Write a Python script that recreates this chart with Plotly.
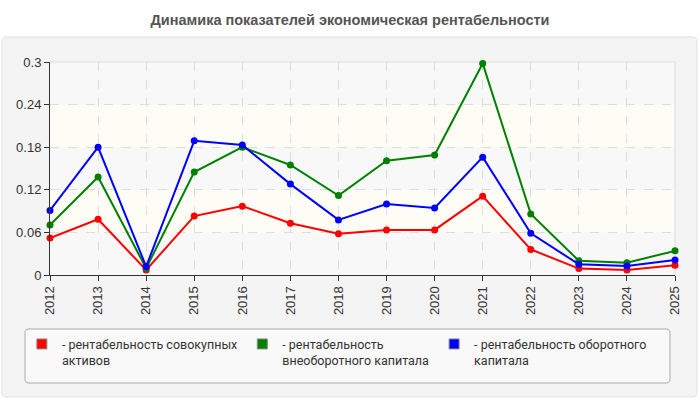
import plotly.graph_objects as go

# données
years = list(range(2012, 2026))
ren_sov = [0.052, 0.0785, 0.007, 0.083, 0.097, 0.073, 0.058, 0.0635, 0.0635, 0.111, 0.036, 0.009, 0.007, 0.0136]
ren_vneob = [0.0705, 0.138, 0.0094, 0.145, 0.180, 0.155, 0.112, 0.161, 0.169, 0.298, 0.086, 0.020, 0.0174, 0.034]
ren_ob = [0.091, 0.180, 0.0118, 0.189, 0.183, 0.128, 0.0776, 0.100, 0.0945, 0.166, 0.0588, 0.015, 0.0127, 0.021]
names = [
	"- рентабельность совокупных<br>активов",
	"- рентабельность<br>внеоборотного капитала",
	"- рентабельность оборотного<br>капитала",
]
colors = ["#ff0000", "#008000", "#0000ff"]
title = "Динамика показателей экономическая рентабельности"
y_ticks = [0, 0.06, 0.12, 0.18, 0.24, 0.3]


def rounded_rect(x0, y0, x1, y1, rx, ry):
	return (f"M {x0 + rx} {y0} L {x1 - rx} {y0} Q {x1} {y0} {x1} {y0 + ry} "
			f"L {x1} {y1 - ry} Q {x1} {y1} {x1 - rx} {y1} L {x0 + rx} {y1} "
			f"Q {x0} {y1} {x0} {y1 - ry} L {x0} {y0 + ry} Q {x0} {y0} {x0 + rx} {y0} Z")


fig = go.Figure()

for vals, name, c in zip([ren_sov, ren_vneob, ren_ob], names, colors):
	fig.add_trace(go.Scatter(x=years, y=vals, mode="lines+markers", showlegend=False,
							 line=dict(color=c, width=2), marker=dict(color=c, size=7),
							 cliponaxis=False))
	# entrée de légende (rectangle)
	fig.add_trace(go.Scatter(x=[None], y=[None], mode="markers", name=name,
							 marker=dict(color=c, symbol="square", size=10,
										 line=dict(color="#888", width=1))))

shapes = []
# panneau gris
shapes.append(dict(type="path", xref="paper", yref="paper", layer="below",
				   path=rounded_rect(-0.0768, -0.5728, 1.0352, 1.1174, 0.008, 0.02),
				   fillcolor="#f4f4f4", line=dict(color="#e2e2e2", width=1)))
# cadre de la légende
shapes.append(dict(type="path", xref="paper", yref="paper", layer="below",
				   path=rounded_rect(-0.04, -0.507, 0.992, -0.2535, 0.006, 0.02),
				   fillcolor="#f9f9f9", line=dict(color="#aaaaaa", width=1)))
# bandes du fond
for i in range(len(y_ticks) - 1):
	fill = "#f8f8f8" if i % 2 == 0 else "#fdfdf5"
	shapes.append(dict(type="rect", xref="paper", yref="y", layer="below",
					   x0=0, x1=1, y0=y_ticks[i], y1=y_ticks[i + 1],
					   fillcolor=fill, line=dict(width=0)))
# bordure haut / droite
shapes.append(dict(type="path", xref="paper", yref="paper", layer="below",
				   path="M 0 1 L 1 1 L 1 0", line=dict(color="#dddddd", width=1)))

fig.update_layout(
	width=700, height=400,
	margin=dict(l=50, r=25, t=62, b=125, autoexpand=False),
	paper_bgcolor="white", plot_bgcolor="white",
	font=dict(family="Liberation Sans, Arial", size=13, color="#333"),
	title=dict(text="<b>" + title + "</b>", x=0.5, xanchor="center", y=0.95, yanchor="middle",
			   font=dict(size=14.5, color="#555")),
	shapes=shapes,
	legend=dict(orientation="h", x=-0.045, y=-0.255, xanchor="left", yanchor="top",
				bgcolor="rgba(0,0,0,0)", borderwidth=0, valign="top",
				font=dict(family="Roboto, Liberation Sans", size=12.5, color="#333"),
				tracegroupgap=0),
	xaxis=dict(range=[2012, 2025], tickmode="array", tickvals=years,
			   ticktext=[str(y) for y in years], tickangle=-90, automargin=False,
			   showline=True, linecolor="#333", linewidth=1, ticks="outside", ticklen=5,
			   tickcolor="#333", showgrid=True, gridcolor="#dddddd", griddash="dash",
			   zeroline=False),
	yaxis=dict(range=[0, 0.3], tickmode="array", tickvals=y_ticks, automargin=False,
			   ticktext=["0", "0.06", "0.12", "0.18", "0.24", "0.3"],
			   showline=True, linecolor="#333", linewidth=1, ticks="outside", ticklen=5,
			   tickcolor="#333", showgrid=True, gridcolor="#dddddd", griddash="dash",
			   zeroline=False),
)

fig.write_html("out.html", config={"displayModeBar": False},
			   post_script="document.body.style.margin = '0';")
